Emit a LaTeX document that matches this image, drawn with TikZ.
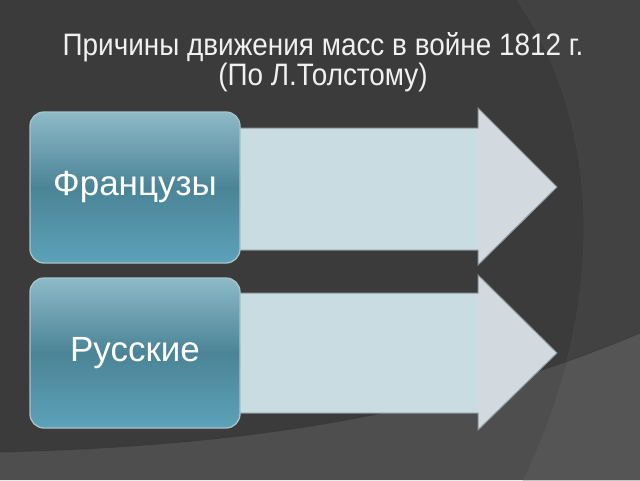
\documentclass[tikz,border=0pt]{standalone}
\usepackage{fontspec}
\setmainfont{Liberation Sans}
\newfontfamily\titlefont[FakeStretch=0.9]{Liberation Sans}
\definecolor{bgdark}{HTML}{3B3B3B}
\definecolor{bgright}{HTML}{424242}
\definecolor{bglow}{HTML}{4E4E4E}
\definecolor{bglowr}{HTML}{555555}
\definecolor{shaftc}{HTML}{C9DCE2}
\definecolor{headc}{HTML}{D3DADF}
\definecolor{arrowedge}{HTML}{8E979C}
\definecolor{boxtop}{HTML}{8DBAC8}
\definecolor{boxmid}{HTML}{4B8496}
\definecolor{boxbot}{HTML}{5CA2B9}
\definecolor{boxedge}{HTML}{A9C3CB}
\tikzset{
  groupbox/.style={rounded corners=14pt, minimum width=210pt, top color=boxtop,
    bottom color=boxbot, middle color=boxmid, draw=boxedge, line width=1.3pt,
    text=white, font=\fontsize{35}{38}\selectfont, inner sep=0pt},
  titletext/.style={text=white!94!black, font=\titlefont\fontsize{31}{33}\selectfont,
    align=center, inner sep=0pt},
  shaftfill/.style={fill=shaftc},
  headfill/.style={fill=headc},
  arrowline/.style={draw=arrowedge, line width=1pt, line join=miter}
}
\begin{document}
\begin{tikzpicture}[x=1pt,y=-1pt]
\useasboundingbox (0,0) rectangle (640,480);
% background
\fill[bgdark] (0,0) rectangle (640,480);
\begin{scope}
  \clip (0,0) rectangle (640,480);
  \fill[bgright] (517,0) .. controls (600,120) and (610,300) .. (523,480) -- (640,480) -- (640,0) -- cycle;
  \draw[black!70, line width=0.6pt, opacity=0.5] (517,0) .. controls (600,120) and (610,300) .. (523,480);
  \fill[bglow] (0,452) .. controls (300,445) and (480,400) .. (640,333) -- (640,480) -- (0,480) -- cycle;
  \begin{scope}
    \clip (0,452) .. controls (300,445) and (480,400) .. (640,333) -- (640,480) -- (0,480) -- cycle;
    \fill[bglowr] (517,0) .. controls (600,120) and (610,300) .. (523,480) -- (640,480) -- (640,0) -- cycle;
  \end{scope}
  \draw[black!80, line width=0.8pt, opacity=0.6] (0,452) .. controls (300,445) and (480,400) .. (640,333);
\end{scope}
% arrows
\fill[shaftfill] (230,128) rectangle (478,250);
\fill[headfill] (478,108) -- (557,187) -- (478,265) -- cycle;
\draw[arrowline] (230,128) -- (478,128) -- (478,108) -- (557,187) -- (478,265) -- (478,250) -- (230,250);
\fill[shaftfill] (230,293) rectangle (478,413);
\fill[headfill] (478,275) -- (557,353) -- (478,430) -- cycle;
\draw[arrowline] (230,293) -- (478,293) -- (478,275) -- (557,353) -- (478,430) -- (478,413) -- (230,413);
% boxes
\node[groupbox, minimum height=151pt] (fr) at (135,187.5) {Французы};
\node[groupbox, minimum height=150pt] (ru) at (135,353) {Русские};
% title
\node[titletext] (title) at (323,62) {Причины движения масс в войне 1812 г.\\[-3pt](По Л.Толстому)};
\end{tikzpicture}
\end{document}
